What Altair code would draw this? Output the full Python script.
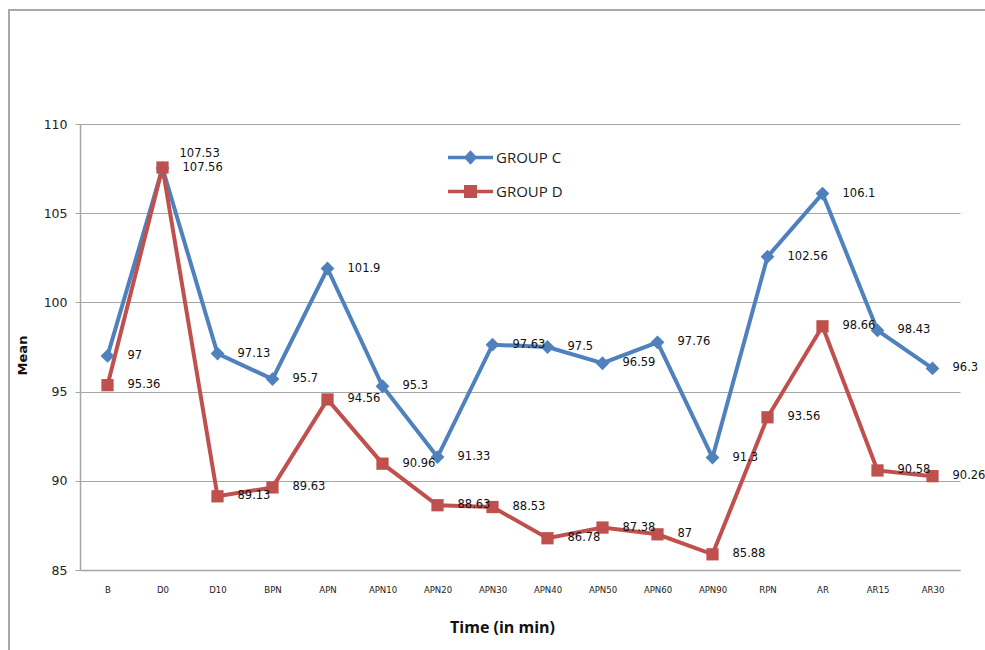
import altair as alt
import pandas as pd

times = ["B", "D0", "D10", "BPN", "APN", "APN10", "APN20", "APN30", "APN40",
         "APN50", "APN60", "APN90", "RPN", "AR", "AR15", "AR30"]
group_c = [97, 107.53, 97.13, 95.7, 101.9, 95.3, 91.33, 97.63, 97.5, 96.59,
           97.76, 91.3, 102.56, 106.1, 98.43, 96.3]
group_d = [95.36, 107.56, 89.13, 89.63, 94.56, 90.96, 88.63, 88.53, 86.78,
           87.38, 87, 85.88, 93.56, 98.66, 90.58, 90.26]
groups = ["GROUP C", "GROUP D"]
colors = ["#4F81BD", "#C0504D"]
y_ticks = [85, 90, 95, 100, 105, 110]

rows = []
for g, vals in zip(groups, [group_c, group_d]):
    for t, v in zip(times, vals):
        rows.append({"Time": t, "Group": g, "Mean": v, "Label": f"{v:g}"})
df = pd.DataFrame(rows)

x_enc = alt.X("Time:N", sort=times, scale=alt.Scale(type="point", padding=0.5),
              axis=alt.Axis(title="Time (in min)", labelAngle=0, ticks=False, grid=False,
                            domainColor="#a6a6a6", domainWidth=1.5,
                            labelFont="DejaVu Sans Condensed, Liberation Sans Narrow, DejaVu Sans",
                            labelFontSize=9.5, labelColor="#222", labelPadding=14,
                            titleFont="Open Sans", titleFontSize=16, titleFontWeight="bold",
                            titleColor="#111", titleX=422, titleY=57,
                            titleBaseline="middle", titleAnchor="start", titleAlign="center"))
y_enc = alt.Y("Mean:Q", scale=alt.Scale(domain=[85, 110], nice=False, zero=False),
              axis=alt.Axis(title="Mean", values=y_ticks, grid=True, gridColor="#a6a6a6",
                            gridWidth=1.2, domainColor="#a6a6a6", domainWidth=1.5,
                            tickColor="#a6a6a6", tickSize=5, labelFont="DejaVu Sans",
                            labelFontSize=12.5, labelColor="#222", labelPadding=8,
                            titleFont="DejaVu Sans", titleFontSize=13, titleFontWeight="bold",
                            titleColor="#111", titleAngle=270, titleX=-58, titleY=231,
                            titleBaseline="middle", titleAlign="center"))

path_c = "M-1,-0.08L1,-0.08L1,0.08L-1,0.08Z M-0.3,0L0,-0.32L0.3,0L0,0.32Z"
path_d = "M-1,-0.08L1,-0.08L1,0.08L-1,0.08Z M-0.29,-0.29L0.29,-0.29L0.29,0.29L-0.29,0.29Z"

legend = alt.Legend(
    title=None, orient="none", legendX=367, legendY=10, padding=0, offset=0,
    symbolSize=2025, symbolOpacity=1, rowPadding=-17, labelOffset=2,
    labelFont="Open Sans", labelFontSize=15, labelColor="#222",
)

color_scale = alt.Scale(domain=groups, range=colors)

base = alt.Chart(df)

lines = base.mark_line(strokeWidth=4).encode(
    x=x_enc, y=y_enc,
    color=alt.Color("Group:N", scale=color_scale, legend=None),
)

points = base.mark_point(filled=True, opacity=1).encode(
    x=alt.X("Time:N", sort=times), y="Mean:Q",
    color=alt.Color("Group:N", scale=color_scale, legend=None),
    shape=alt.Shape("Group:N", scale=alt.Scale(domain=groups, range=["diamond", "square"]), legend=None),
    size=alt.Size("Group:N", scale=alt.Scale(domain=groups, range=[190, 150]), legend=None),
)

legend_layer = base.transform_filter("false").mark_point(filled=True, opacity=1).encode(
    x=alt.X("Time:N", sort=times), y="Mean:Q",
    color=alt.Color("Group:N", scale=color_scale, legend=legend),
    shape=alt.Shape("Group:N", scale=alt.Scale(domain=groups, range=[path_c, path_d]), legend=legend),
)

special = (alt.datum.Time == "D0") & (alt.datum.Group == "GROUP C")
text_kw = dict(align="left", baseline="middle", font="DejaVu Sans", fontSize=11.5, color="#111")

labels = base.transform_filter(~special).mark_text(dx=20, **text_kw).encode(
    x=alt.X("Time:N", sort=times), y="Mean:Q", text="Label:N",
)
labels_top = base.transform_filter(special).mark_text(dx=17, dy=-14, **text_kw).encode(
    x=alt.X("Time:N", sort=times), y="Mean:Q", text="Label:N",
)

frame_df = pd.DataFrame({"k": [0]})
frame_top = alt.Chart(frame_df).mark_rule(stroke="#a8a8a8", strokeWidth=2).encode(
    x=alt.value(-71), x2=alt.value(960), y=alt.value(-114))
frame_left = alt.Chart(frame_df).mark_rule(stroke="#a8a8a8", strokeWidth=2).encode(
    x=alt.value(-71), y=alt.value(-115), y2=alt.value(560))

chart = alt.layer(frame_top, frame_left, lines, points, legend_layer, labels, labels_top).resolve_scale(
    color="independent", shape="independent", size="independent"
).properties(
    width=880, height=446,
    background="white",
    autosize=alt.AutoSizeParams(type="none"),
    padding={"left": 80, "top": 124, "right": 25, "bottom": 80},
).configure_view(stroke=None)

chart.save("out.html", embed_options={"renderer": "svg", "actions": False})
